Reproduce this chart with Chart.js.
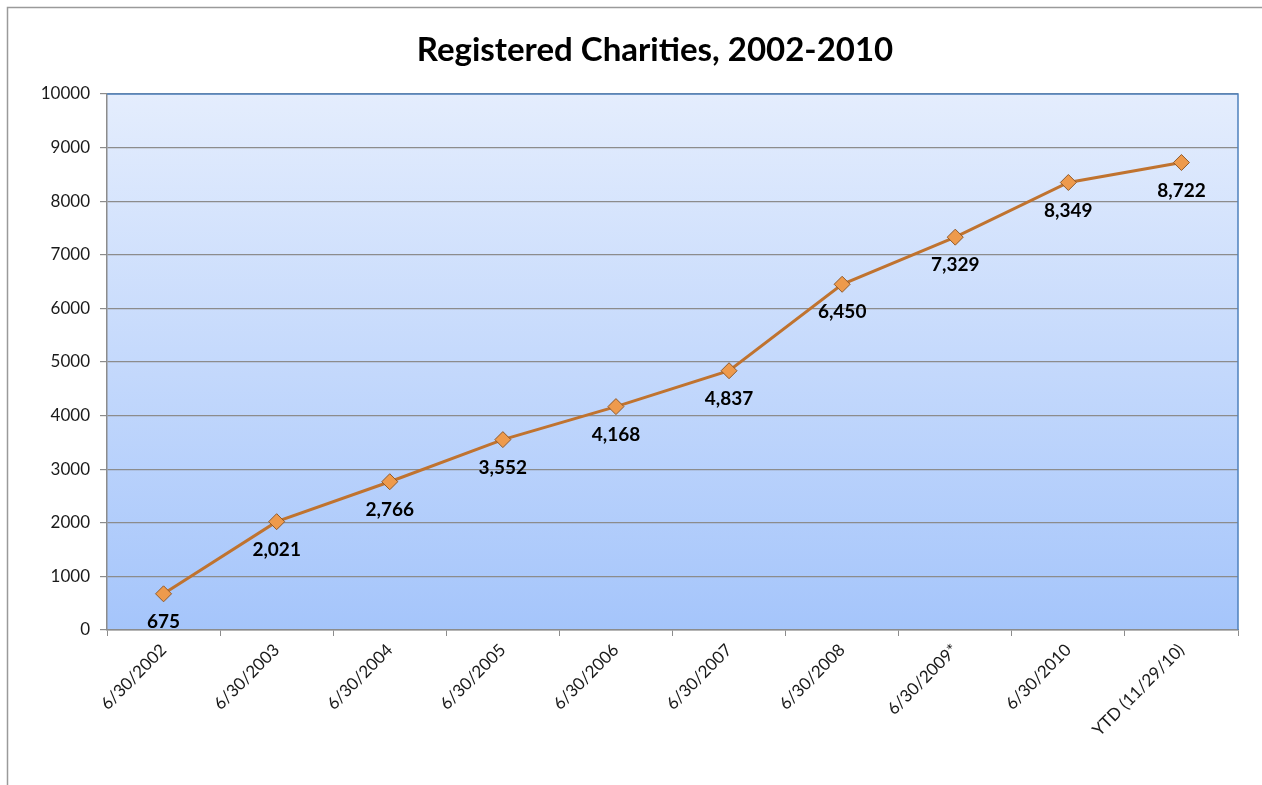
<!DOCTYPE html>
<html>
<head>
<meta charset="utf-8">
<title>Registered Charities, 2002-2010</title>
<script src="https://cdn.jsdelivr.net/npm/chart.js@4"></script>
<style>
  html, body { margin: 0; padding: 0; background: #fff; }
  #wrap { width: 1262px; height: 785px; position: relative; }
</style>
</head>
<body>
<div id="wrap"><canvas id="charity-canvas"></canvas></div>
<script>
// chart data
var chartTitle = "Registered Charities, 2002-2010";
var dates = ["6/30/2002", "6/30/2003", "6/30/2004", "6/30/2005", "6/30/2006",
             "6/30/2007", "6/30/2008", "6/30/2009*", "6/30/2010", "YTD (11/29/10)"];
var charities = [675, 2021, 2766, 3552, 4168, 4837, 6450, 7329, 8349, 8722];
var yMin = 0;
var yMax = 10000;
var yStep = 1000;

var fontName = "Lato, 'Noto Sans', sans-serif";

// frame, plot background, title and point labels
var excelLook = {
  id: 'excelLook',
  beforeDraw: function (chart) {
    let ctx = chart.ctx;
    let area = chart.chartArea;
    ctx.save();
    // outer frame
    ctx.strokeStyle = '#9a9a9a';
    ctx.lineWidth = 1.5;
    ctx.beginPath();
    ctx.moveTo(7.5, chart.height);
    ctx.lineTo(7.5, 7.5);
    ctx.lineTo(chart.width, 7.5);
    ctx.stroke();
    // plot area gradient
    let grad = ctx.createLinearGradient(0, area.top, 0, area.bottom);
    grad.addColorStop(0, '#e4edfd');
    grad.addColorStop(1, '#a5c5fb');
    ctx.fillStyle = grad;
    ctx.fillRect(area.left, area.top, area.right - area.left, area.bottom - area.top);
    // title
    ctx.fillStyle = '#000';
    ctx.font = 'bold 33px ' + fontName;
    ctx.textAlign = 'center';
    ctx.textBaseline = 'middle';
    ctx.fillText(chartTitle, 655, 50);
    ctx.restore();
  },
  afterDatasetsDraw: function (chart) {
    let ctx = chart.ctx;
    let area = chart.chartArea;
    ctx.save();
    // blue top/right border of plot area
    ctx.strokeStyle = '#4f81bd';
    ctx.lineWidth = 1.5;
    ctx.beginPath();
    ctx.moveTo(area.left, area.top);
    ctx.lineTo(area.right, area.top);
    ctx.lineTo(area.right, area.bottom);
    ctx.stroke();
    // value labels under each point
    let meta = chart.getDatasetMeta(0);
    ctx.fillStyle = '#000';
    ctx.font = 'bold 19px ' + fontName;
    ctx.textAlign = 'center';
    ctx.textBaseline = 'middle';
    meta.data.forEach((pt, i) => {
      ctx.fillText(charities[i].toLocaleString('en-US'), pt.x, pt.y + 28);
    });
    ctx.restore();
  }
};

let chartData = {
  labels: dates,
  datasets: [{
    label: 'Registered Charities',
    data: charities,
    borderColor: '#c0732f',
    borderWidth: 3,
    pointStyle: 'rectRot',
    pointRadius: 8,
    pointHoverRadius: 8,
    pointBackgroundColor: '#ee9a4c',
    pointBorderColor: '#8f5a2c',
    pointBorderWidth: 1,
    tension: 0
  }]
};

let config = {
  type: 'line',
  data: chartData,
  options: {
    responsive: false,
    animation: false,
    layout: { padding: { top: 94, right: 24, left: 0, bottom: 0 } },
    plugins: {
      legend: { display: false },
      title: { display: false },
      tooltip: { enabled: false }
    },
    scales: {
      x: {
        offset: true,
        grid: {
          offset: true,
          drawOnChartArea: false,
          drawTicks: true,
          tickLength: 6,
          color: '#8c8c8c'
        },
        border: { color: '#8c8c8c', width: 1.5 },
        ticks: {
          maxRotation: 45,
          minRotation: 45,
          color: '#1a1a1a',
          font: { family: fontName, size: 17 },
          padding: 4
        },
        afterFit: function (scale) { scale.height = 155; }
      },
      y: {
        min: yMin,
        max: yMax,
        ticks: {
          stepSize: yStep,
          color: '#1a1a1a',
          font: { family: fontName, size: 17 },
          padding: 10,
          callback: function (v) { return v; }
        },
        grid: {
          color: '#8c8c8c',
          lineWidth: 1.2,
          tickLength: 7
        },
        border: { color: '#8c8c8c', width: 1.5 },
        afterFit: function (scale) { scale.width = 107; }
      }
    }
  },
  plugins: [excelLook]
};

let canvas = document.querySelector("#charity-canvas");
canvas.width = 1262;
canvas.height = 785;
let myChart = new Chart(canvas, config);
</script>
</body>
</html>
